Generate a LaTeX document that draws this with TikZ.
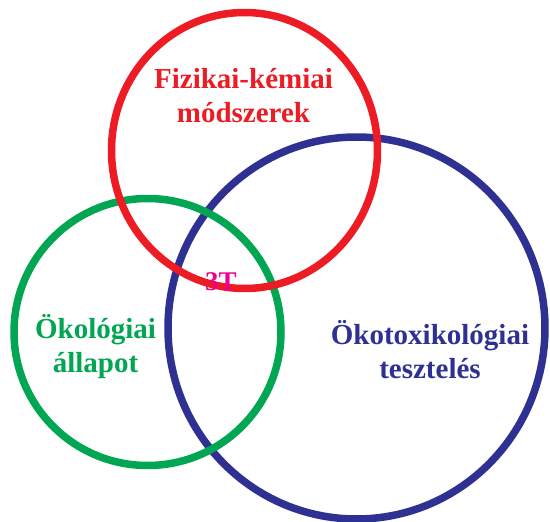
\documentclass[tikz,border=0pt]{standalone}
\usepackage{fontspec}
\setmainfont{Liberation Serif}
\usepackage{tikz}
\definecolor{ringred}{RGB}{237,28,36}
\definecolor{ringgreen}{RGB}{0,166,81}
\definecolor{ringblue}{RGB}{46,49,146}
\definecolor{coremag}{RGB}{236,0,140}

\begin{document}
\begin{tikzpicture}[
  x=1pt,y=-1pt,
  ring/.style={line width=7.5pt},
  lbl/.style={font=\bfseries\fontsize{29}{34}\selectfont,align=center,inner sep=0pt,anchor=base}
]
\useasboundingbox (0,0) rectangle (550,522);
\draw[ring,ringblue] (356.5,328) ellipse[x radius=188.5,y radius=191];
\draw[ring,ringgreen] (147.5,332) circle[radius=133.5];
\draw[ring,ringred] (244.5,150.5) ellipse[x radius=133,y radius=138];
\node[lbl,text=ringred] (fiz) at (243.5,122) {Fizikai-kémiai\\módszerek};
\node[lbl,text=ringgreen] (oko) at (95.5,372) {Ökológiai\\állapot};
\node[lbl,text=ringblue] (tox) at (430,378) {Ökotoxikológiai\\tesztelés};
\node[lbl,text=coremag,font=\bfseries\fontsize{27}{30}\selectfont] (core) at (221,290) {3T};
\end{tikzpicture}
\end{document}
